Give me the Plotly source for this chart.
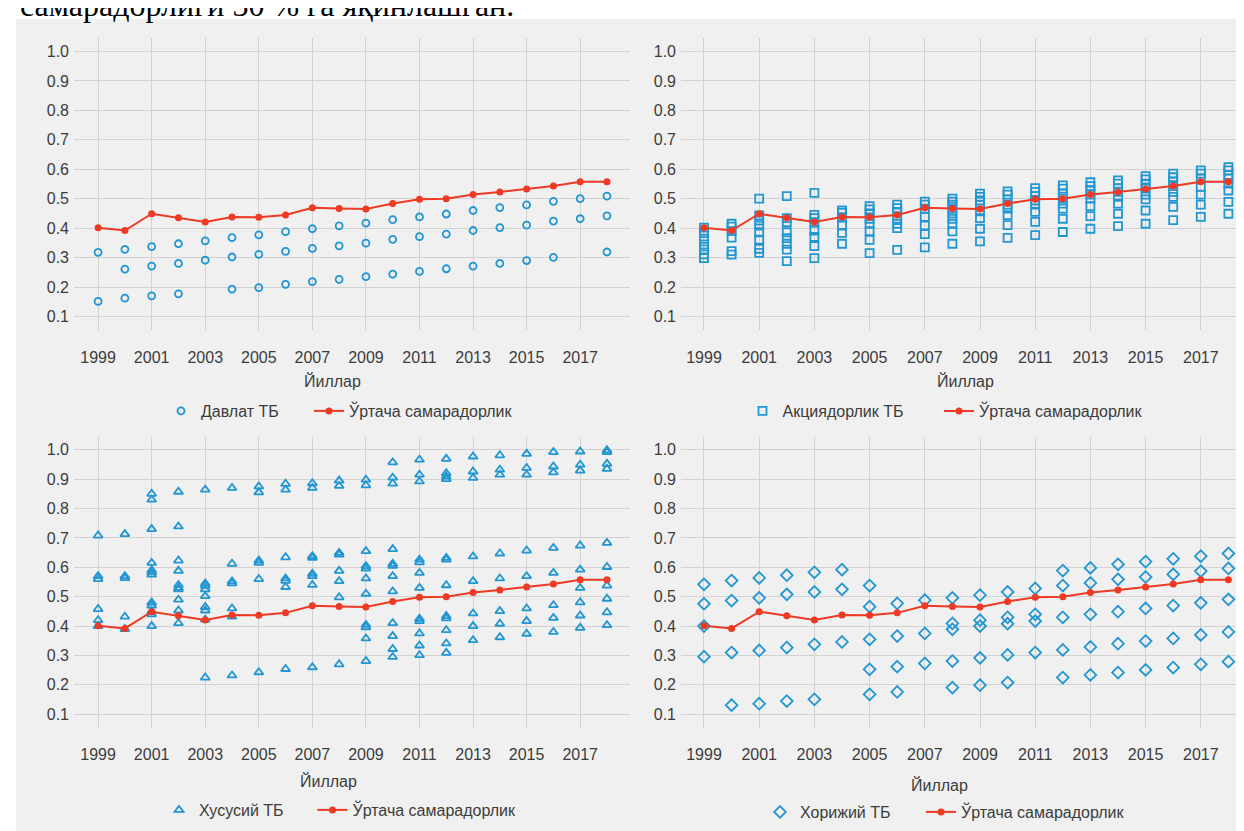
import plotly.graph_objects as go

W, H = 1244, 831

# ---------------- data ----------------
years = list(range(1999, 2019))
tick_years = list(range(1999, 2019, 2))
y_ticks = [0.1, 0.2, 0.3, 0.4, 0.5, 0.6, 0.7, 0.8, 0.9, 1.0]

avg_eff = [0.401, 0.392, 0.449, 0.435, 0.421, 0.438, 0.437, 0.445, 0.469, 0.467,
           0.465, 0.484, 0.498, 0.500, 0.514, 0.523, 0.533, 0.543, 0.558, 0.558]

# one list per year (1999..2018)
davlat_tb = [
    [0.318, 0.151],
    [0.328, 0.261, 0.162],
    [0.337, 0.271, 0.170],
    [0.347, 0.280, 0.177],
    [0.357, 0.291],
    [0.368, 0.302, 0.193],
    [0.377, 0.311, 0.198],
    [0.388, 0.321, 0.209],
    [0.398, 0.331, 0.218],
    [0.408, 0.340, 0.226],
    [0.417, 0.349, 0.235],
    [0.429, 0.362, 0.244],
    [0.438, 0.371, 0.253],
    [0.448, 0.380, 0.262],
    [0.460, 0.392, 0.271],
    [0.470, 0.402, 0.280],
    [0.479, 0.410, 0.290],
    [0.491, 0.424, 0.301],
    [0.500, 0.432],
    [0.509, 0.442, 0.319],
]

aksiyadorlik_tb = [
    [0.402, 0.383, 0.364, 0.345, 0.328, 0.311, 0.298],
    [0.415, 0.405, 0.390, 0.368, 0.322, 0.310],
    [0.500, 0.443, 0.426, 0.409, 0.386, 0.361, 0.330, 0.316],
    [0.509, 0.434, 0.420, 0.386, 0.366, 0.347, 0.327, 0.288],
    [0.520, 0.445, 0.434, 0.420, 0.392, 0.370, 0.339, 0.298],
    [0.460, 0.452, 0.437, 0.409, 0.384, 0.347],
    [0.475, 0.464, 0.450, 0.432, 0.415, 0.390, 0.360, 0.315],
    [0.480, 0.468, 0.455, 0.432, 0.415, 0.400, 0.326],
    [0.490, 0.480, 0.466, 0.438, 0.409, 0.380, 0.335],
    [0.500, 0.490, 0.480, 0.466, 0.450, 0.432, 0.415, 0.389, 0.347],
    [0.517, 0.506, 0.494, 0.480, 0.457, 0.434, 0.398, 0.355],
    [0.525, 0.514, 0.498, 0.480, 0.466, 0.444, 0.410, 0.367],
    [0.536, 0.523, 0.509, 0.494, 0.480, 0.455, 0.421, 0.376],
    [0.545, 0.534, 0.517, 0.500, 0.483, 0.466, 0.432, 0.387],
    [0.556, 0.543, 0.528, 0.514, 0.500, 0.475, 0.441, 0.398],
    [0.562, 0.551, 0.536, 0.523, 0.506, 0.483, 0.449, 0.407],
    [0.577, 0.566, 0.551, 0.534, 0.514, 0.498, 0.460, 0.415],
    [0.585, 0.573, 0.559, 0.543, 0.523, 0.506, 0.472, 0.427],
    [0.596, 0.585, 0.568, 0.540, 0.514, 0.480, 0.438],
    [0.607, 0.596, 0.581, 0.568, 0.551, 0.528, 0.489, 0.449],
]

xususiy_tb = [
    [0.708, 0.570, 0.560, 0.458, 0.420, 0.400],
    [0.713, 0.570, 0.563, 0.432, 0.390],
    [0.850, 0.830, 0.730, 0.615, 0.590, 0.583, 0.575, 0.480, 0.470, 0.450, 0.440, 0.400],
    [0.857, 0.739, 0.623, 0.588, 0.540, 0.530, 0.525, 0.490, 0.453, 0.410],
    [0.864, 0.545, 0.537, 0.525, 0.502, 0.465, 0.453, 0.422, 0.225],
    [0.870, 0.612, 0.552, 0.545, 0.460, 0.432, 0.232],
    [0.875, 0.855, 0.623, 0.615, 0.560, 0.243],
    [0.884, 0.864, 0.634, 0.562, 0.554, 0.533, 0.254],
    [0.886, 0.870, 0.638, 0.632, 0.578, 0.570, 0.540, 0.260],
    [0.895, 0.877, 0.649, 0.643, 0.588, 0.553, 0.498, 0.270],
    [0.898, 0.879, 0.655, 0.604, 0.596, 0.562, 0.510, 0.404, 0.396, 0.358, 0.281],
    [0.957, 0.905, 0.885, 0.662, 0.612, 0.605, 0.570, 0.518, 0.410, 0.366, 0.322, 0.295],
    [0.966, 0.915, 0.892, 0.626, 0.617, 0.581, 0.530, 0.425, 0.417, 0.375, 0.334, 0.301],
    [0.969, 0.920, 0.909, 0.900, 0.632, 0.626, 0.539, 0.434, 0.426, 0.386, 0.341, 0.309],
    [0.977, 0.926, 0.904, 0.637, 0.553, 0.443, 0.400, 0.352],
    [0.981, 0.932, 0.915, 0.647, 0.562, 0.451, 0.408, 0.362],
    [0.986, 0.938, 0.915, 0.657, 0.570, 0.460, 0.417, 0.374],
    [0.992, 0.943, 0.923, 0.666, 0.581, 0.471, 0.428, 0.380],
    [0.994, 0.949, 0.929, 0.674, 0.592, 0.530, 0.481, 0.436, 0.394],
    [0.998, 0.992, 0.952, 0.935, 0.683, 0.601, 0.538, 0.493, 0.447, 0.403],
]

xorijiy_tb = [
    [0.542, 0.476, 0.296, 0.400],
    [0.555, 0.487, 0.310, 0.131],
    [0.564, 0.496, 0.317, 0.136],
    [0.573, 0.508, 0.327, 0.145],
    [0.583, 0.516, 0.338, 0.151],
    [0.592, 0.525, 0.346],
    [0.538, 0.466, 0.355, 0.253, 0.168],
    [0.477, 0.366, 0.262, 0.176],
    [0.488, 0.375, 0.273],
    [0.496, 0.409, 0.389, 0.281, 0.191],
    [0.505, 0.420, 0.400, 0.292, 0.199],
    [0.516, 0.430, 0.408, 0.302, 0.208],
    [0.528, 0.440, 0.417, 0.310],
    [0.589, 0.538, 0.430, 0.319, 0.225],
    [0.598, 0.547, 0.440, 0.329, 0.234],
    [0.610, 0.559, 0.449, 0.340, 0.242],
    [0.619, 0.567, 0.460, 0.349, 0.251],
    [0.629, 0.576, 0.470, 0.358, 0.259],
    [0.638, 0.587, 0.479, 0.370, 0.270],
    [0.647, 0.596, 0.491, 0.380, 0.279],
]

group_names = ["Давлат ТБ", "Акциядорлик ТБ", "Хусусий ТБ", "Хорижий ТБ"]
avg_name = "Ўртача самарадорлик"
x_title = "Йиллар"
top_text = "самарадорлиги 30 % га яқинлашган."

# ---------------- styling ----------------
BG = "#F0F0F0"
GRID = "#D2D2D2"
BLUE = "#2196D3"
RED = "#EE3A24"
TXT = "#3C3C3C"
FONT = "Liberation Sans, Arial, sans-serif"

symbols = ["circle-open", "square-open", "triangle-up-open", "diamond-open"]
sizes = [7, 8, 8, 9]

def fx(px):
    return px / W

def fy(py):
    return 1 - py / H

# panel geometry in pixels: (left, right, top, bottom), x range
panels_px = [
    (66, 622, 30.3, 321.7, [1998.1, 2018.86]),
    (673, 1240, 30.3, 321.7, [1998.167, 2018.71]),
    (66, 622, 428.5, 719.5, [1998.1, 2018.86]),
    (673, 1240, 428.5, 719.5, [1998.167, 2018.71]),
]
xstandoff = [16, 16, 15, 15]
legend_px = [(153, 403, 103), (734.5, 403, 151.5), (151, 802, 108.5), (752, 804, 116)]
title_px = [(324, 373), (957, 373), (320, 773), (932, 777)]

groups = [davlat_tb, aksiyadorlik_tb, xususiy_tb, xorijiy_tb]

fig = go.Figure()
layout = dict(
    width=W, height=H,
    margin=dict(l=0, r=0, t=0, b=0),
    paper_bgcolor="white",
    plot_bgcolor=BG,
    font=dict(family=FONT, size=16, color=TXT),
    showlegend=True,
    shapes=[dict(type="rect", xref="paper", yref="paper", x0=fx(8), x1=1, y0=0, y1=fy(11),
                 fillcolor=BG, line=dict(width=0), layer="below")],
    annotations=[],
)

for i in range(4):
    sfx = "" if i == 0 else str(i + 1)
    l, r, t, b, xr = panels_px[i]
    xs, ys = [], []
    for yr, vals in zip(years, groups[i]):
        for v in vals:
            xs.append(yr)
            ys.append(v)
    leg = "legend" + sfx
    lx, ly, lw = legend_px[i]
    fig.add_trace(go.Scatter(
        x=xs, y=ys, mode="markers", name=group_names[i],
        xaxis="x" + sfx, yaxis="y" + sfx, legend=leg, legendwidth=lw,
        marker=dict(symbol=symbols[i], size=sizes[i], color=BLUE, line=dict(width=1.8, color=BLUE)),
        cliponaxis=False,
    ))
    fig.add_trace(go.Scatter(
        x=years, y=avg_eff, mode="lines+markers", name=avg_name,
        xaxis="x" + sfx, yaxis="y" + sfx, legend=leg,
        line=dict(color=RED, width=2),
        marker=dict(symbol="circle", size=7, color=RED),
        cliponaxis=False,
    ))
    layout["xaxis" + sfx] = dict(
        domain=[fx(l), fx(r)], range=xr, anchor="y" + sfx,
        tickvals=tick_years, ticktext=[str(v) for v in tick_years],
        showgrid=True, gridcolor=GRID, gridwidth=1, zeroline=False, showline=False,
        ticks="", ticklabelstandoff=xstandoff[i], tickfont=dict(size=16, color=TXT),
    )
    layout["yaxis" + sfx] = dict(
        domain=[fy(b), fy(t)], range=[0.055, 1.045], anchor="x" + sfx,
        tickvals=y_ticks, tickformat=".1f",
        showgrid=True, gridcolor=GRID, gridwidth=1, zeroline=False, showline=False,
        ticks="", ticklabelstandoff=4, tickfont=dict(size=16, color=TXT),
    )
    layout[leg] = dict(
        orientation="h", x=fx(lx), y=fy(ly), xanchor="left", yanchor="middle",
        bgcolor="rgba(0,0,0,0)", font=dict(size=16, color=TXT),
    )
    tx, ty = title_px[i]
    layout["annotations"].append(dict(
        text=x_title, xref="paper", yref="paper", x=fx(tx), y=fy(ty),
        xanchor="center", yanchor="middle", showarrow=False,
        font=dict(size=16, color=TXT),
    ))

layout["annotations"].append(dict(
    text=top_text, xref="paper", yref="paper", x=fx(10), y=1, yshift=3,
    xanchor="left", yanchor="middle", showarrow=False,
    font=dict(family="Liberation Serif, Times New Roman, serif", size=32, color="black"),
))

fig.update_layout(**layout)
fig.write_html("out.html")
